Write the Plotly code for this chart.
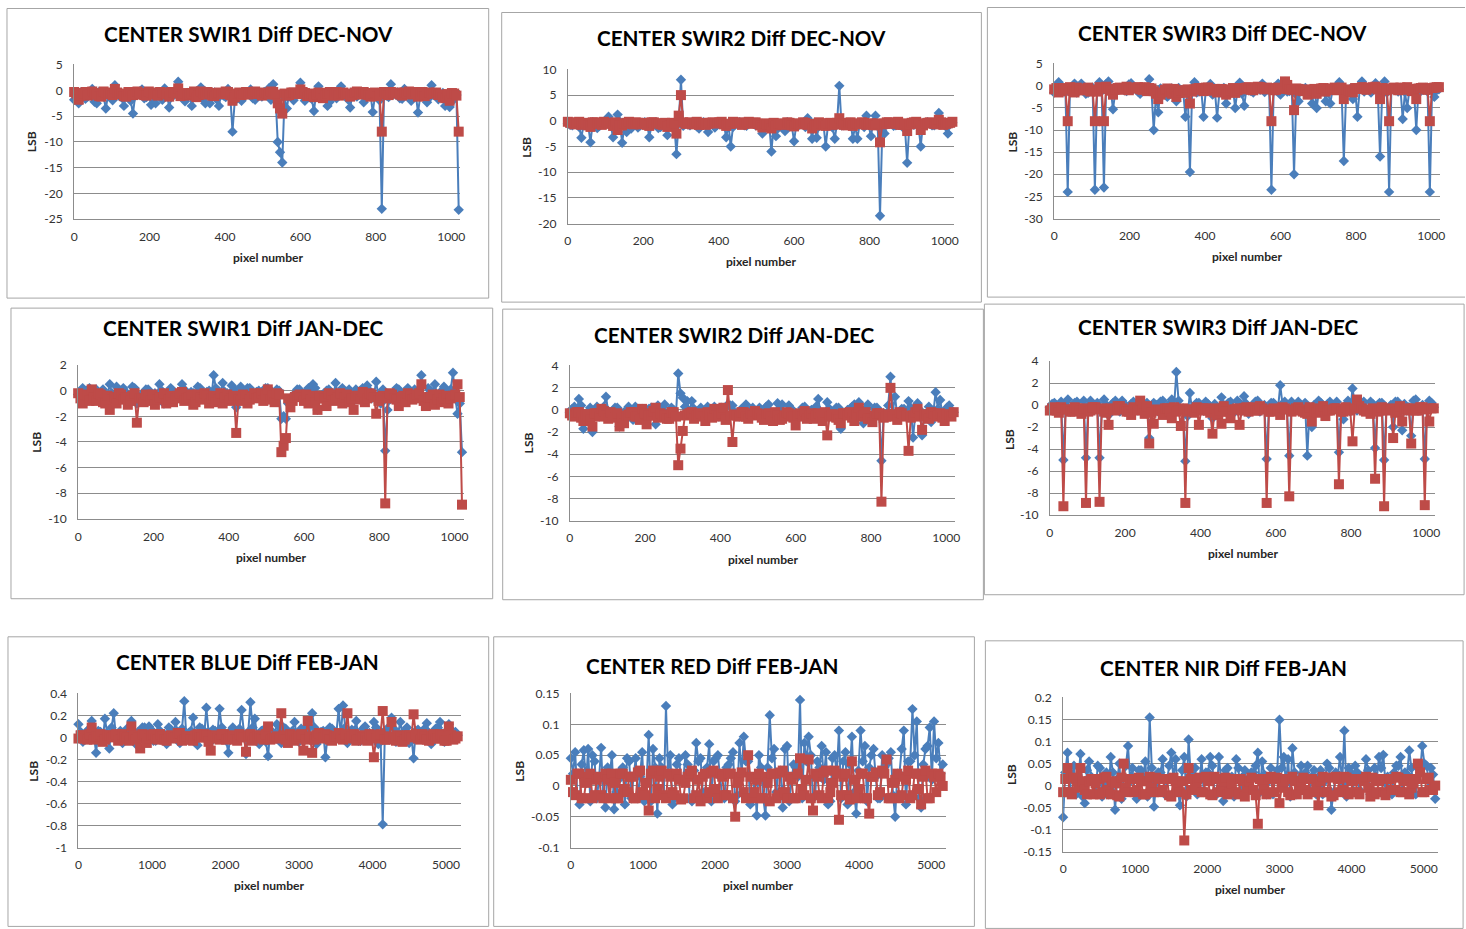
import plotly.graph_objects as go

# Figure size in CSS pixels, and the affine map from screen pixels (in which
# the layout anchors below are written) to figure pixels.
W, H = 1470, 936
SCREEN_SX, SCREEN_SY = 0.9945, 0.983
SCREEN_OX, SCREEN_OY = 2.5, 7.0

# Pixel positions sampled along each detector line (two interleaved grids)
SWIR_PIXELS_A = list(range(0, 1021, 12))   # 86 samples
SWIR_PIXELS_B = list(range(6, 1015, 12))   # 85 samples
VNIR_PIXELS_A = list(range(0, 5161, 60))   # 87 samples
VNIR_PIXELS_B = list(range(30, 5131, 60))  # 86 samples

SWIR_XTICKS = [0, 200, 400, 600, 800, 1000]
VNIR_XTICKS = [0, 1000, 2000, 3000, 4000, 5000]

# ---- CENTER SWIR1 Diff DEC-NOV ----
swir1_decnov_blue_a = [
    -1.8, -2.5, -0.6, -1.2, 0.3, -2.5, -0.9, -3.5, -0.5, 1.0,
    -1.1, -3.0, -0.4, -4.5, -0.8, 0.2, -1.3, -2.8, -2.5, -0.6,
    0.4, -3.3, -0.9, 1.7, -1.4, -0.5, -3.0, -0.7, 0.6, -2.5,
    -2.5, -0.4, -3.0, -1.0, 0.3, -8.0, -0.8, -2.0, -0.5, 0.2,
    -1.8, -0.9, -0.3, 0.4, 1.2, -10.0, -14.0, -3.5, -0.6, -0.6,
    1.5, -2.0, -0.7, -4.0, 0.8, -1.2, -3.0, -0.5, -1.5, 0.8,
    -0.6, -3.3, -1.0, -0.4, -2.3, -0.8, -4.2, -0.5, -23.0, -1.0,
    1.2, -0.7, -1.5, 0.3, -0.9, -1.4, -4.3, -0.6, -2.3, 1.0,
    -0.5, -1.2, -3.0, -3.2, -1.0, -23.2]
swir1_decnov_blue_b = [
    -1.0, -0.4, -1.6, -0.7, -2.2, -0.3, -1.2, -0.8, -1.9, -0.5,
    -1.4, -0.6, -2.0, -0.9, -0.2, -1.5, -0.7, -1.1, -0.4, -1.8,
    -0.6, -1.3, -0.3, -0.9, -2.1, -0.5, -1.2, -0.8, -1.6, -0.4,
    -1.0, -1.7, -0.6, -1.3, -0.9, -2.0, -0.5, -1.1, -0.3, -1.5,
    -0.7, -1.2, -0.4, -1.8, -0.8, -12.0, -1.4, -0.6, -1.9, -0.3,
    -1.1, -0.7, -1.6, -0.5, -1.3, -0.9, -2.2, -0.4, -1.0, -0.6,
    -1.7, -0.8, -1.2, -0.3, -1.5, -0.7, -1.0, -1.9, -0.5, -1.3,
    -0.8, -0.4, -1.6, -0.9, -2.0, -0.6, -1.1, -0.3, -1.4, -0.8,
    -1.7, -0.5, -1.2, -2.1, -0.9]
swir1_decnov_red_a = [
    -0.3, -1.8, -0.5, -1.0, -0.2, -0.8, -1.2, -0.4, -0.6, 0.3,
    -0.7, -1.1, -0.3, -0.9, -0.2, -0.6, -1.0, -0.4, -0.8, -0.3,
    -0.5, -1.2, -0.4, 0.4, -0.7, -1.0, -0.5, -1.3, -0.2, -0.8,
    -0.5, -1.1, -0.4, -0.7, -0.3, -2.0, -0.6, -0.9, -0.3, -0.5,
    -0.2, -0.6, -0.4, -0.8, -0.3, -2.5, -4.5, -1.0, -0.4, -0.7,
    0.2, -0.5, -0.9, -1.3, -0.4, -1.5, -0.6, -1.0, -0.3, -0.5,
    -0.8, -1.2, -0.4, -0.6, -0.3, -0.9, -0.5, -1.1, -8.0, -0.6,
    -0.3, -0.5, -0.8, -0.4, -0.2, -0.6, -1.2, -0.3, -0.7, -0.5,
    -0.4, -0.8, -1.5, -2.0, -0.6, -8.0]
swir1_decnov_red_b = [
    -0.6, -1.0, -0.3, -0.8, -0.5, -1.1, -0.2, -0.7, -0.9, -0.4,
    -0.6, -1.2, -0.3, -0.8, -0.5, -0.9, -0.2, -0.7, -1.0, -0.4,
    -0.8, -0.3, -0.6, -1.1, -0.5, -0.8, -0.2, -0.9, -0.6, -0.3,
    -1.0, -0.5, -0.7, -0.2, -0.9, -1.3, -0.4, -0.6, -0.8, -0.3,
    -0.7, -1.0, -0.5, -0.2, -0.8, -3.5, -0.6, -0.9, -0.4, -0.7,
    -0.3, -1.1, -0.6, -0.8, -0.5, -0.9, -0.3, -0.7, -1.0, -0.4,
    -0.6, -0.9, -0.2, -0.8, -0.5, -1.2, -0.4, -0.7, -0.3, -0.9,
    -0.6, -0.4, -1.0, -0.5, -0.8, -0.3, -0.7, -1.1, -0.4, -0.6,
    -0.9, -1.3, -0.7, -0.5, -1.0]

# ---- CENTER SWIR2 Diff DEC-NOV ----
swir2_decnov_blue_a = [
    -0.6, -0.9, -0.3, -3.3, -0.8, -4.2, -0.5, -1.0, -0.4, 0.8,
    -3.2, 1.2, -4.3, -2.2, -1.5, -0.6, -0.9, -0.3, -3.2, -0.8,
    -1.4, -0.5, -2.8, -0.7, -6.5, 8.0, -0.4, -0.9, -0.5, -1.5,
    -0.3, -2.2, -0.6, -0.8, -0.4, -3.2, -5.0, -0.7, -0.3, -0.9,
    -0.5, -0.6, -0.4, -2.5, -0.8, -6.0, -3.0, -0.7, -2.0, -0.5,
    -4.0, -0.9, -0.4, 0.5, -3.5, -3.3, -0.8, -5.0, -0.6, -3.5,
    6.8, -0.9, -0.5, -3.5, -3.5, -0.7, 1.0, -3.0, 1.0, -18.5,
    -2.5, -0.6, -1.0, -0.4, -1.2, -8.2, -0.6, -0.3, -5.0, -0.8,
    -0.5, -0.9, 1.5, -0.6, -2.5, -0.4]
swir2_decnov_blue_b = [
    -0.8, -0.4, -1.2, -0.6, -0.9, -0.3, -1.4, -0.7, -0.5, -1.0,
    -0.6, -0.2, -1.1, -0.8, -0.4, -1.3, -0.7, -0.5, -0.9, -0.3,
    -1.2, -0.6, -0.8, -0.4, -0.5, -1.0, -0.7, -0.3, -1.1, -0.6,
    -0.9, -0.4, -1.3, -0.5, -0.8, -0.7, -1.2, -0.3, -0.6, -1.0,
    -0.4, -0.9, -0.7, -1.1, -0.5, -0.8, -1.4, -0.6, -0.3, -1.0,
    -0.7, -0.5, -1.2, -0.9, -0.4, -1.1, -0.6, -0.8, -1.3, -0.5,
    -0.9, -0.7, -0.4, -1.0, -0.6, -1.2, -0.8, -0.3, -1.1, -2.0,
    -0.7, -0.5, -0.9, -0.4, -1.2, -0.6, -0.8, -1.0, -0.5, -0.3,
    -0.9, -0.6, -0.4, -1.1, -0.7]
swir2_decnov_red_a = [
    -0.2, -0.5, -0.3, -0.8, -0.4, -1.2, -0.3, -0.6, -0.2, -0.5,
    -1.0, -1.8, -0.9, -0.4, -0.6, -0.3, -0.7, -0.4, -1.0, -0.3,
    -0.5, -0.8, -1.2, -0.4, -2.5, 5.0, -0.6, -0.3, -0.5, -0.8,
    -0.4, -0.6, -0.3, -0.5, -0.2, -1.0, -0.6, -0.4, -0.3, -0.5,
    -0.2, -0.4, -0.6, -1.3, -0.8, -1.5, -0.9, -0.5, -0.7, -0.4,
    -1.1, -0.6, -0.3, -0.8, -1.5, -0.9, -0.5, -1.0, -0.4, -0.7,
    0.5, -0.8, -0.4, -1.0, -0.6, -0.3, -0.8, -0.5, -0.9, -4.2,
    -0.6, -0.3, -0.5, -0.2, -0.8, -2.0, -0.4, -0.2, -1.8, -0.5,
    -0.3, -0.6, 0.2, -0.8, -0.5, -0.2]
swir2_decnov_red_b = [
    -0.4, -0.7, -0.2, -0.6, -0.9, -0.3, -0.5, -0.8, -0.4, -0.6,
    -0.3, -0.9, -0.5, -0.2, -0.7, -0.4, -0.6, -0.8, -0.3, -0.5,
    -0.7, -0.4, -0.9, -0.6, 1.0, -0.3, -0.5, -0.7, -0.2, -0.6,
    -0.8, -0.4, -0.5, -0.3, -0.7, -0.6, -0.2, -0.5, -0.8, -0.4,
    -0.6, -0.3, -0.9, -0.5, -0.7, -0.4, -0.6, -0.8, -0.3, -0.9,
    -0.5, -0.7, -0.4, -0.6, -0.9, -0.3, -0.7, -0.5, -0.8, -0.4,
    -0.6, -0.9, -0.3, -0.5, -0.7, -0.4, -0.6, -0.8, -0.5, -0.7,
    -0.3, -0.6, -0.4, -0.8, -0.5, -0.7, -0.3, -0.6, -0.9, -0.4,
    -0.5, -0.7, -0.3, -0.6, -0.4]

# ---- CENTER SWIR3 Diff DEC-NOV ----
swir3_decnov_blue_a = [
    -1.5, 0.8, -0.6, -24.0, -1.0, -1.5, 0.5, -1.8, -0.8, -23.5,
    0.8, -23.0, 1.0, -5.3, -0.9, -0.5, -1.2, 0.6, -0.7, -1.8,
    -0.4, 1.5, -10.0, -6.0, -1.2, -2.5, -0.6, -3.5, -1.0, -7.0,
    -19.5, 0.8, -1.3, -7.0, -0.5, -2.0, -7.2, -1.5, -4.0, -0.8,
    -5.0, 0.7, -4.5, -1.0, -1.5, -0.6, 0.5, -0.9, -23.5, -0.7,
    -2.0, 0.9, -1.2, -20.0, -3.5, -0.8, -1.4, -4.0, -5.0, -0.6,
    -3.5, -4.0, -0.9, 0.8, -17.0, -1.2, -3.0, -7.0, 1.0, -0.8,
    -1.5, 0.6, -16.0, 1.0, -24.0, -0.7, -1.3, -7.5, -5.0, -0.9,
    -10.0, -1.2, -0.5, -24.0, -2.5, -0.8]
swir3_decnov_blue_b = [
    -0.9, -0.3, -1.4, -0.6, 0.5, -1.1, -0.7, -1.6, -0.4, -0.9,
    -1.2, 0.4, -0.8, -1.5, -0.5, -1.0, 0.3, -0.7, -1.3, -0.4,
    -0.8, -1.1, -2.0, -0.6, -1.4, -0.9, -1.7, -0.5, -1.2, -1.0,
    -0.6, -1.5, -0.8, -1.1, 0.4, -0.9, -1.6, -0.5, -1.3, -0.7,
    -1.0, -1.8, -0.6, -1.2, -0.4, -0.9, -1.4, -0.7, -1.1, 0.5,
    -0.8, -1.3, -0.6, -2.0, -1.0, -0.5, -1.5, -0.8, -1.2, -0.7,
    -1.4, -0.9, -0.5, -1.1, -1.6, -0.6, -1.0, -0.8, -1.3, -0.4,
    -0.9, -1.2, -0.6, -1.5, -0.8, -1.0, -0.5, -1.4, -0.7, -1.1,
    -0.6, -0.9, -1.3, -0.5, -1.0]
swir3_decnov_red_a = [
    -0.8, -1.5, -0.5, -8.0, -1.2, -0.4, -1.0, -0.6, -1.3, -8.0,
    -0.3, -8.0, -0.7, -2.0, -0.5, -0.9, -0.2, -0.6, -0.4, -0.8,
    -0.3, -0.5, -1.2, -3.0, -1.5, -0.6, -1.8, -2.5, -1.0, -1.6,
    -4.0, -0.8, -0.5, -1.2, -0.4, -0.9, -1.5, -0.7, -2.0, -1.0,
    -1.6, -0.5, -0.8, -0.3, -1.0, -0.2, -0.6, -0.4, -8.0, -0.9,
    -0.5, 1.0, -0.8, -5.5, -0.7, -1.2, -2.0, -1.0, -1.8, -0.6,
    -1.3, -0.9, -0.4, -0.8, -3.0, -1.0, -1.5, -0.6, -0.3, -0.9,
    -0.5, -0.2, -3.0, -0.7, -8.0, -0.4, -1.0, -0.6, -0.3, -1.2,
    -3.0, -0.5, -0.8, -8.0, -0.4, -0.3]
swir3_decnov_red_b = [
    -0.5, -1.2, -0.8, -0.3, -1.5, -0.7, -1.0, -0.4, -0.9, -1.3,
    -0.6, -0.2, -1.1, -0.8, -0.4, -0.7, -1.0, -0.5, -0.3, -0.9,
    -1.2, -0.6, -1.8, -2.0, -0.9, -1.4, -0.7, -1.6, -1.1, -0.8,
    -1.3, -0.6, -0.9, -0.4, -1.1, -0.7, -1.4, -0.8, -1.2, -0.5,
    -1.0, -0.7, -0.4, -0.9, -0.6, -0.3, -0.8, -0.5, -1.0, -0.4,
    -0.7, 0.2, -0.9, -0.6, -1.1, -0.8, -1.5, -0.7, -1.2, -0.5,
    -0.9, -0.6, -1.0, -0.4, -0.8, -1.3, -0.5, -0.7, -0.4, -0.6,
    -0.3, -0.8, -0.5, -1.0, -0.6, -0.8, -0.4, -0.9, -0.7, -1.1,
    -0.6, -0.4, -0.9, -0.5, -0.3]

# ---- CENTER SWIR1 Diff JAN-DEC ----
swir1_jandec_blue_a = [
    -0.3, 0.2, -0.6, -0.2, 0.1, -0.5, -0.8, 0.5, -0.4, -0.1,
    0.2, -0.6, 0.3, -1.0, -0.3, 0.1, -0.5, -0.2, 0.5, -1.0,
    -0.4, 0.0, -0.6, 0.5, -0.3, -0.1, -0.7, 0.2, -0.4, 0.0,
    1.2, -0.5, 0.6, -0.2, 0.4, -1.3, 0.3, -0.6, 0.2, -0.3,
    0.0, -0.5, 0.2, -0.1, 0.1, -2.2, -2.2, -0.8, -0.3, 0.1,
    -0.5, 0.2, 0.5, -1.5, -0.4, 0.0, -0.6, 0.6, -0.2, -0.5,
    0.1, -0.8, -0.3, 0.2, 0.4, -0.6, 0.7, -1.0, -4.7, -0.7,
    -0.2, 0.1, -0.4, 0.2, -0.6, -0.1, 1.2, -0.5, 0.0, 0.5,
    -0.3, 0.3, -0.6, 1.4, -1.8, -4.8]
swir1_jandec_blue_b = [
    -0.1, -0.5, 0.2, -0.3, -0.7, 0.1, -0.4, -0.2, 0.3, -0.6,
    -0.1, -0.4, 0.2, -0.5, -0.2, 0.1, -0.7, -0.3, 0.0, -0.5,
    0.2, -0.3, -0.6, 0.1, -0.4, -0.2, 0.3, -0.5, -0.1, -0.6,
    0.2, -0.3, -0.1, -0.5, 0.1, -0.4, -0.2, 0.2, -0.6, -0.1,
    -0.3, 0.2, -0.5, -0.2, 0.0, -2.0, -1.0, -0.4, 0.1, -0.3,
    -0.1, -0.6, 0.2, -0.4, -0.2, 0.1, -0.5, -0.3, 0.2, -0.1,
    -0.4, 0.1, -0.6, -0.2, 0.0, -0.3, -0.5, 0.1, -1.5, -0.4,
    0.2, -0.2, -0.5, -0.1, 0.1, -0.3, -0.6, 0.2, -0.2, -0.4,
    0.0, -0.3, 0.1, -0.5, -1.0]
swir1_jandec_red_a = [
    -0.2, -1.0, -0.4, 0.1, -0.8, -0.3, -1.0, -1.5, -0.5, -0.2,
    -0.7, -1.1, -0.4, -2.5, -0.6, -0.3, -0.8, -1.1, -0.5, -0.2,
    -0.7, -0.9, -0.4, -0.1, -0.6, -0.3, -0.9, -0.5, -0.2, -1.0,
    -0.4, -0.7, -1.0, -0.3, -0.6, -3.3, -0.8, -0.4, -0.7, -0.2,
    -0.5, -0.8, 0.1, -0.4, -0.2, -4.8, -3.7, -1.3, -0.5, -0.3,
    -0.8, -1.0, -0.4, -1.5, -0.6, -1.2, -0.3, -0.7, -0.2, -0.5,
    -0.9, -1.5, -0.4, -0.1, -0.6, -0.3, -1.8, -0.5, -8.8, -0.2,
    -0.6, -1.2, -0.4, -0.2, -0.7, -0.3, 0.5, -1.2, -0.5, -1.1,
    -0.3, -0.6, -1.0, -0.4, 0.5, -8.9]
swir1_jandec_red_b = [
    -0.6, -0.3, -0.8, -0.5, -0.2, -0.9, -0.4, -0.7, -1.0, -0.3,
    -0.5, -0.8, -0.2, -0.6, -0.9, -0.4, -0.3, -0.7, -0.5, -1.0,
    -0.4, -0.6, -0.2, -0.8, -0.5, -1.1, -0.3, -0.7, -0.4, -0.6,
    -0.9, -0.2, -0.5, -0.8, -0.4, -0.7, -0.3, -1.0, -0.5, -0.6,
    -0.2, -0.4, -0.7, -0.9, -0.3, -4.3, -0.6, -0.8, -0.4, -0.5,
    -0.3, -0.7, -0.9, -0.4, -0.6, -0.2, -0.8, -0.5, -1.0, -0.3,
    -0.6, -0.4, -0.7, -0.9, -0.2, -0.5, -0.8, -0.4, -0.6, -0.3,
    -0.7, -0.5, -0.9, -0.4, -0.6, -0.2, -0.8, -0.5, -0.3, -0.7,
    -0.9, -0.4, -0.6, -0.3, -0.5]

# ---- CENTER SWIR2 Diff JAN-DEC ----
swir2_jandec_blue_a = [
    -0.2, 0.3, 1.0, -1.7, -0.4, -2.0, 0.3, -0.5, 1.2, -0.3,
    0.2, -1.5, -0.6, 0.3, -0.9, -0.2, 0.1, -0.5, 0.2, -1.3,
    -0.3, 0.5, -0.6, 0.0, 3.3, 1.1, 0.8, 0.8, -0.4, 0.2,
    -0.5, -0.1, 0.3, -0.6, 0.0, 0.5, 0.4, -0.3, 0.1, 0.5,
    -0.7, -0.2, 0.2, -0.4, 0.5, -0.6, 0.6, 0.5, -0.3, 0.1,
    -0.8, -0.2, 0.3, -0.5, 0.0, 1.0, -0.4, 0.7, -0.6, 0.2,
    -1.7, -0.3, 0.1, 0.5, 0.7, -1.2, 0.5, -0.4, 0.2, -4.6,
    -0.5, 3.0, 1.2, -0.3, 0.1, 0.8, -2.5, 0.6, -2.3, -0.4,
    -1.1, 1.6, 0.9, -0.5, 0.4, -0.2]
swir2_jandec_blue_b = [
    0.1, -0.3, 0.4, -0.5, 0.2, -0.2, -0.6, 0.3, -0.1, -0.4,
    0.2, -0.3, 0.0, -0.6, 0.3, -0.2, -0.5, 0.1, -0.3, 0.4,
    -0.1, -0.5, 0.2, -0.4, 1.5, 0.3, -0.2, 0.1, -0.4, -0.1,
    0.3, -0.5, 0.0, 0.2, -0.3, 0.4, -0.2, -0.6, 0.1, -0.3,
    0.2, -0.4, 0.0, 0.3, -0.2, -0.5, 0.1, -0.3, 0.4, -0.1,
    -0.4, 0.2, -0.6, 0.0, 0.3, -0.2, -0.4, 0.1, -0.3, 0.2,
    -0.5, 0.0, 0.3, -0.2, -0.4, 0.1, -0.6, 0.2, -0.1, -0.3,
    0.4, -0.2, -0.5, 0.1, -0.3, 0.2, -0.4, 0.0, -0.6, 0.3,
    -0.2, 0.1, -0.4, 0.2, -0.1]
swir2_jandec_red_a = [
    -0.3, -0.6, -0.2, -1.0, -0.4, -1.5, -0.3, 0.1, -0.5, -0.2,
    -0.7, -1.5, -1.2, -0.4, -0.2, -0.6, 0.1, -1.3, -0.5, 0.2,
    -0.3, -0.5, -0.8, -0.2, -5.0, -1.9, -0.4, -0.2, -0.5, -0.3,
    -1.0, -0.4, 0.1, -0.6, 0.2, 1.8, -2.9, -0.5, -0.2, -0.6,
    -0.3, -0.1, -0.4, -0.9, -0.3, -1.0, -0.5, -0.8, -0.2, -0.6,
    -1.4, -0.3, -0.1, -0.5, -0.8, -0.3, -1.0, -2.3, -0.4, -0.7,
    -1.2, -0.3, -0.2, -1.0, 0.2, -0.5, -0.8, -1.1, -0.3, -8.3,
    -0.6, 2.0, -0.4, -0.2, -0.6, -3.7, -0.5, 0.1, -1.8, -0.4,
    -0.2, -0.6, -0.3, -1.0, -0.4, -0.2]
swir2_jandec_red_b = [
    -0.5, -0.2, -0.7, -0.4, -0.9, -0.3, -0.6, -0.1, -0.8, -0.4,
    -0.3, -0.7, -0.5, -0.2, -0.6, -0.9, -0.3, -0.5, -0.1, -0.7,
    -0.4, -0.8, -0.2, -0.6, -3.5, -0.5, -0.3, -0.8, -0.4, -0.6,
    -0.2, -0.7, -0.5, -0.3, -0.9, -0.5, -0.4, -0.6, -0.2, -0.8,
    -0.5, -0.3, -0.7, -0.4, -0.6, -0.2, -0.9, -0.5, -0.3, -0.7,
    -0.4, -0.6, -0.8, -0.3, -0.5, -0.7, -0.2, -0.6, -0.4, -0.9,
    -0.3, -0.5, -0.7, -0.4, -0.6, -0.2, -0.8, -0.5, -0.3, -0.7,
    -0.4, -0.6, -0.9, -0.3, -0.5, -0.7, -0.2, -0.6, -0.4, -0.8,
    -0.3, -0.5, -0.7, -0.4, -0.6]

# ---- CENTER SWIR3 Diff JAN-DEC ----
swir3_jandec_blue_a = [
    -0.2, 0.2, -0.4, -5.0, 0.5, -0.3, 0.3, -0.6, -4.8, 0.4,
    -0.2, -4.8, 0.5, -0.9, 0.2, -0.3, 0.4, -0.5, 0.1, -0.2,
    0.3, -0.4, -3.0, 0.2, -0.6, 0.4, -0.2, 0.5, 3.0, -0.4,
    -5.1, 1.1, -0.3, 0.2, -0.5, 0.1, -1.2, -0.4, 0.7, -0.2,
    0.3, -0.6, 0.2, 0.8, -0.8, -0.3, 0.4, -0.2, -4.9, 0.2,
    -0.4, 1.8, 0.3, -4.6, -0.2, 0.3, -0.5, -4.6, -2.0, -0.3,
    0.2, -0.6, 0.3, -0.2, -4.3, -1.3, 0.4, 1.5, -0.5, 0.2,
    -0.3, 0.3, -3.9, 0.2, -5.0, -0.4, -2.0, 0.3, -2.3, -0.5,
    -2.8, 0.5, -0.3, -4.9, 0.4, -0.2]
swir3_jandec_blue_b = [
    0.1, -0.5, 0.3, -0.2, -0.6, 0.2, -0.3, 0.4, -0.1, -0.5,
    0.2, -0.4, 0.0, -0.3, 0.4, -0.6, 0.1, -0.2, 0.3, -0.5,
    -0.1, 0.2, -0.4, 0.0, 0.3, -0.6, 0.1, -0.2, 0.4, -0.3,
    -1.0, -0.5, 0.2, -0.1, 0.3, -0.4, 0.1, -0.6, 0.0, 0.2,
    -0.3, 0.4, -0.5, 0.1, -0.2, 0.3, -0.6, 0.0, -0.3, 0.2,
    -0.4, 0.1, -0.5, 0.3, -0.1, -0.6, 0.2, -0.3, 0.0, 0.4,
    -0.5, 0.1, -0.2, 0.3, -0.4, 0.0, -0.6, 0.2, -0.1, 0.3,
    -0.5, 0.1, -0.3, 0.2, -0.4, 0.0, 0.3, -0.6, 0.1, -0.2,
    0.4, -0.5, 0.0, -0.3, 0.2]
swir3_jandec_red_a = [
    -0.5, -0.2, -0.7, -9.2, -0.4, -0.6, -0.3, -0.8, -8.9, -0.5,
    -0.2, -8.8, -0.6, -1.8, -0.4, -0.1, -0.3, -0.6, -0.9, -0.4,
    0.4, -0.8, -3.5, -1.7, -0.5, -0.9, -0.3, -1.2, -0.6, -1.9,
    -8.9, -0.4, -0.7, -1.8, -0.3, -0.5, -2.6, -0.9, -1.7, -0.6,
    -1.2, -0.4, -1.8, -0.3, -0.6, -0.2, -0.5, -0.3, -8.9, -0.6,
    -0.4, -0.9, -0.3, -8.3, -0.5, -0.2, -0.6, -0.8, -1.5, -0.7,
    -0.4, -1.0, -0.5, -0.3, -7.2, -0.6, -0.4, -3.3, 0.5, -0.3,
    -0.6, -0.8, -6.7, -0.5, -9.2, -0.4, -3.0, -0.6, -1.5, -0.3,
    -3.5, -0.5, -0.2, -9.1, -1.5, -0.3]
swir3_jandec_red_b = [
    -0.3, -0.5, -0.2, -0.4, -0.6, -0.2, -0.5, -0.3, -0.6, -0.2,
    -0.4, -0.3, -0.7, -0.3, -0.5, -0.1, -0.4, -0.6, -0.2, -0.5,
    -0.3, -0.1, -0.7, -0.4, -0.5, -0.3, -0.6, -0.2, -0.5, -0.3,
    -0.6, -0.4, -0.2, -0.5, -0.3, -0.7, -0.3, -0.5, -0.1, -0.6,
    -0.4, -0.3, -0.5, -0.2, -0.4, -0.5, -0.1, -0.4, -0.6, -0.3,
    -0.5, -0.2, -0.4, -0.6, -0.3, -0.4, -0.7, -0.2, -0.5, -0.3,
    -0.1, -0.5, -0.4, -0.3, -0.6, -0.2, -0.5, -0.3, -0.1, -0.5,
    -0.4, -0.3, -0.6, -0.2, -0.5, -0.3, -0.7, -0.1, -0.4, -0.5,
    -0.3, -0.5, -0.2, -0.4, -0.3]

# ---- CENTER BLUE Diff FEB-JAN ----
blue_febjan_blue_a = [
    0.12, -0.04, 0.06, 0.15, -0.14, 0.05, 0.17, -0.10, 0.22, 0.03,
    -0.05, 0.08, 0.15, -0.06, 0.04, 0.09, 0.10, -0.03, 0.12, 0.02,
    -0.06, 0.07, 0.14, -0.05, 0.33, 0.04, 0.18, -0.07, 0.08, 0.27,
    -0.04, 0.06, 0.26, 0.02, -0.14, 0.09, 0.05, 0.25, -0.15, 0.32,
    0.17, -0.06, 0.07, -0.17, 0.03, 0.12, -0.05, 0.08, 0.02, 0.14,
    -0.04, 0.06, 0.10, 0.22, -0.06, 0.05, -0.18, 0.09, 0.03, 0.26,
    0.29, -0.05, 0.07, 0.15, -0.03, 0.10, 0.04, 0.14, -0.06, -0.79,
    0.08, 0.18, -0.04, 0.14, 0.06, -0.05, -0.19, 0.07, 0.03, 0.13,
    -0.06, 0.08, 0.14, -0.04, 0.12, 0.05, 0.02]
blue_febjan_blue_b = [
    0.05, -0.02, 0.08, 0.02, 0.06, -0.03, 0.04, 0.09, 0.01, 0.06,
    0.03, 0.08, 0.00, 0.05, 0.09, 0.02, 0.07, -0.03, 0.06, 0.03,
    0.09, 0.01, 0.05, 0.08, -0.02, 0.06, 0.03, 0.09, 0.00, 0.05,
    0.07, 0.02, 0.09, -0.03, 0.06, 0.03, 0.08, 0.01, 0.05, 0.09,
    0.02, 0.06, -0.04, 0.07, 0.03, 0.05, 0.09, 0.00, 0.06, 0.02,
    0.08, 0.04, -0.02, 0.09, 0.03, 0.06, 0.01, 0.08, 0.04, 0.02,
    0.09, 0.03, 0.06, -0.03, 0.08, 0.04, 0.01, 0.09, 0.03, 0.06,
    -0.02, 0.08, 0.04, 0.02, 0.09, 0.01, 0.06, 0.03, 0.08, 0.04,
    -0.01, 0.09, 0.03, 0.06, 0.02, 0.05]
blue_febjan_red_a = [
    -0.01, 0.02, -0.02, 0.09, 0.01, 0.03, -0.02, 0.02, 0.01, -0.03,
    0.03, 0.00, 0.10, -0.02, -0.10, 0.02, -0.01, 0.03, -0.02, 0.01,
    -0.03, 0.02, 0.00, 0.04, -0.02, 0.01, -0.03, 0.03, 0.00, 0.02,
    -0.12, 0.01, -0.02, 0.03, -0.01, 0.02, -0.03, 0.01, -0.13, 0.03,
    0.00, 0.02, -0.02, 0.10, -0.01, 0.01, 0.22, -0.02, 0.03, -0.03,
    0.01, -0.12, 0.15, -0.14, 0.02, -0.01, 0.03, -0.02, 0.01, 0.04,
    -0.02, 0.22, 0.01, -0.03, 0.02, -0.01, 0.03, -0.18, 0.02, 0.24,
    -0.02, 0.14, -0.03, 0.01, -0.02, 0.02, 0.21, -0.01, 0.03, -0.02,
    0.02, -0.01, 0.03, -0.03, 0.10, -0.02, 0.01]
blue_febjan_red_b = [
    0.02, -0.01, 0.03, -0.02, 0.01, -0.04, 0.02, 0.00, 0.03, -0.02,
    0.01, -0.03, 0.02, 0.00, 0.03, -0.05, 0.02, -0.01, 0.03, -0.02,
    0.01, -0.01, 0.04, -0.03, 0.01, -0.02, 0.02, 0.00, 0.03, -0.04,
    0.02, -0.01, 0.03, -0.02, 0.01, -0.02, 0.03, 0.00, 0.02, -0.03,
    0.01, -0.01, 0.03, -0.02, 0.00, -0.01, 0.02, -0.05, 0.02, -0.01,
    0.03, -0.02, 0.01, -0.02, 0.04, 0.00, 0.02, -0.03, 0.01, -0.01,
    0.03, -0.01, 0.03, -0.02, 0.00, -0.03, 0.02, -0.01, 0.03, -0.02,
    0.01, -0.01, 0.02, -0.04, 0.02, 0.00, 0.03, -0.02, 0.01, -0.03,
    0.03, -0.01, 0.02, -0.03, 0.02, -0.01]

# ---- CENTER RED Diff FEB-JAN ----
red_febjan_blue_a = [
    0.045, 0.055, -0.03, 0.058, 0.06, 0.05, -0.02, 0.062, -0.035, 0.02,
    -0.038, 0.01, 0.03, 0.045, -0.02, 0.045, 0.015, -0.025, 0.083, 0.06,
    -0.045, 0.03, 0.13, 0.05, -0.02, 0.045, 0.01, 0.035, -0.025, 0.07,
    0.045, -0.02, 0.068, 0.04, 0.05, -0.015, 0.03, 0.045, -0.025, 0.07,
    0.08, 0.04, -0.02, -0.048, 0.03, -0.048, 0.115, 0.06, 0.02, -0.035,
    0.065, 0.01, 0.03, 0.14, 0.07, 0.08, -0.02, 0.04, 0.065, 0.055,
    -0.025, 0.05, 0.09, 0.04, -0.03, 0.08, -0.045, 0.09, 0.065, 0.03,
    0.06, -0.02, 0.05, 0.035, 0.055, -0.05, 0.02, 0.09, 0.04, 0.125,
    0.105, -0.035, 0.06, 0.095, 0.105, 0.07, 0.035]
red_febjan_blue_b = [
    0.02, -0.015, 0.035, 0.005, -0.025, 0.04, 0.01, -0.02, 0.03, 0.05,
    -0.01, 0.025, -0.03, 0.04, 0.015, -0.02, 0.055, 0.005, -0.025, 0.03,
    0.045, -0.015, 0.02, -0.03, 0.035, 0.01, 0.05, -0.02, 0.025, 0.04,
    -0.01, 0.03, -0.025, 0.045, 0.015, -0.02, 0.035, 0.055, -0.015, 0.02,
    0.04, -0.03, 0.01, 0.05, -0.02, 0.03, 0.045, -0.01, 0.025, 0.06,
    -0.025, 0.035, 0.015, -0.02, 0.04, 0.05, -0.015, 0.03, 0.01, -0.03,
    0.045, 0.02, -0.02, 0.055, 0.035, -0.01, 0.025, 0.04, -0.025, 0.05,
    0.015, -0.02, 0.03, 0.045, -0.015, 0.02, 0.06, -0.03, 0.04, 0.05,
    -0.02, 0.035, 0.065, 0.01, 0.045, 0.02]
red_febjan_red_a = [
    0.01, -0.015, 0.02, -0.02, 0.015, -0.02, 0.01, -0.015, 0.02, -0.02,
    0.005, -0.02, 0.02, -0.01, 0.015, -0.02, 0.025, -0.015, -0.04, 0.025,
    -0.005, 0.025, -0.02, 0.015, -0.015, 0.01, -0.02, 0.015, 0.025, -0.015,
    -0.025, 0.02, -0.01, 0.025, -0.02, 0.015, -0.015, 0.02, -0.05, 0.015,
    -0.01, 0.05, -0.02, 0.01, -0.02, 0.015, -0.025, 0.02, -0.015, 0.025,
    -0.02, 0.01, -0.02, 0.045, -0.015, 0.043, -0.04, 0.015, -0.02, 0.025,
    -0.01, 0.025, -0.055, 0.015, -0.015, 0.04, -0.02, 0.02, -0.02, -0.045,
    0.015, -0.015, 0.025, 0.043, -0.02, 0.01, -0.02, 0.015, 0.025, -0.015,
    0.02, -0.03, 0.025, -0.02, 0.015, 0.02, 0.0]
red_febjan_red_b = [
    -0.01, 0.02, -0.02, 0.005, 0.02, -0.015, 0.015, -0.02, 0.01, 0.02,
    -0.02, 0.02, -0.005, 0.015, -0.02, 0.022, -0.01, 0.005, 0.02, -0.02,
    0.015, -0.015, 0.02, -0.01, 0.02, -0.022, 0.005, 0.02, -0.02, 0.01,
    0.015, -0.02, 0.022, -0.005, 0.02, -0.015, 0.02, -0.02, 0.005, 0.022,
    -0.02, 0.015, -0.01, 0.02, -0.02, 0.005, 0.02, -0.02, 0.022, -0.01,
    0.015, -0.02, 0.02, -0.005, 0.01, -0.02, 0.02, -0.015, 0.022, -0.02,
    0.005, 0.02, -0.015, 0.02, -0.022, 0.01, -0.005, 0.02, -0.02, 0.015,
    0.022, -0.01, 0.02, -0.02, 0.005, 0.02, -0.015, 0.01, -0.02, 0.02,
    -0.005, 0.015, -0.02, 0.02, -0.01, 0.015]

# ---- CENTER NIR Diff FEB-JAN ----
nir_febjan_blue_a = [
    -0.072, 0.075, 0.02, -0.02, 0.072, -0.04, 0.055, 0.01, 0.045, -0.025,
    0.03, 0.065, -0.055, 0.05, 0.02, 0.09, 0.04, -0.03, 0.035, 0.055,
    0.155, -0.048, 0.03, 0.06, 0.015, 0.075, 0.06, -0.045, 0.065, 0.105,
    0.02, -0.02, 0.06, 0.03, 0.065, -0.015, 0.065, -0.035, 0.04, 0.02,
    0.06, -0.02, 0.035, 0.01, 0.03, 0.075, 0.055, -0.02, 0.04, 0.02,
    0.15, 0.065, 0.06, 0.085, -0.02, 0.045, 0.03, -0.015, 0.035, 0.02,
    -0.02, 0.05, -0.055, 0.03, 0.065, 0.125, 0.04, -0.015, 0.03, 0.02,
    0.06, -0.02, 0.04, 0.065, 0.07, 0.02, -0.02, 0.045, 0.065, 0.03,
    0.08, -0.015, 0.04, 0.09, 0.045, 0.04, -0.03]
nir_febjan_blue_b = [
    0.03, -0.01, 0.045, 0.01, -0.025, 0.035, 0.02, -0.015, 0.04, 0.005,
    -0.02, 0.03, 0.015, -0.03, 0.045, 0.01, -0.01, 0.035, 0.02, -0.025,
    0.04, 0.005, 0.03, -0.02, 0.045, 0.015, -0.01, 0.035, -0.025, 0.02,
    0.04, 0.01, -0.015, 0.03, 0.045, -0.02, 0.015, 0.035, 0.005, -0.025,
    0.04, 0.02, -0.01, 0.03, 0.045, -0.015, 0.025, 0.01, -0.02, 0.035,
    0.04, 0.005, -0.025, 0.03, 0.015, -0.01, 0.045, 0.02, -0.02, 0.035,
    0.01, 0.04, -0.015, 0.025, 0.005, -0.025, 0.03, 0.045, -0.01, 0.02,
    0.035, -0.02, 0.015, 0.04, 0.005, -0.015, 0.03, 0.045, -0.01, 0.025,
    0.04, -0.02, 0.03, 0.05, 0.01, 0.025]
nir_febjan_red_a = [
    -0.015, 0.04, -0.02, 0.015, 0.04, -0.01, 0.01, -0.02, 0.015, -0.015,
    0.02, -0.02, 0.005, -0.025, 0.05, -0.015, 0.015, -0.01, 0.01, -0.02,
    0.02, -0.015, 0.015, -0.01, 0.015, -0.025, 0.01, -0.015, -0.125, 0.04,
    -0.01, 0.015, -0.015, 0.02, -0.02, 0.02, -0.015, 0.01, -0.02, 0.005,
    -0.015, 0.015, -0.025, 0.01, -0.01, -0.087, 0.01, -0.02, 0.02, 0.015,
    -0.04, 0.01, -0.015, 0.02, -0.02, 0.01, -0.01, 0.015, -0.015, -0.045,
    0.02, -0.015, -0.025, 0.02, -0.015, 0.02, -0.02, 0.01, -0.015, 0.015,
    0.02, -0.025, -0.02, 0.01, -0.015, 0.015, -0.01, 0.02, -0.015, 0.01,
    -0.02, 0.005, 0.05, -0.015, 0.015, -0.01, 0.0]
nir_febjan_red_b = [
    0.015, -0.015, 0.018, -0.005, 0.01, -0.02, 0.015, 0.005, -0.02, 0.018,
    -0.01, 0.01, -0.022, 0.018, -0.005, 0.015, -0.015, 0.018, -0.02, 0.01,
    -0.005, 0.018, -0.015, 0.015, -0.022, 0.018, -0.01, 0.01, -0.02, 0.015,
    -0.005, 0.018, -0.015, 0.01, -0.022, 0.015, -0.01, 0.018, -0.015, 0.015,
    -0.02, 0.01, -0.005, 0.018, -0.022, 0.015, -0.01, 0.015, -0.015, 0.018,
    -0.005, 0.015, -0.022, 0.01, -0.01, 0.018, -0.02, 0.015, -0.005, 0.01,
    -0.015, 0.018, -0.022, 0.015, -0.01, 0.018, -0.015, 0.015, -0.02, 0.01,
    -0.005, 0.018, -0.015, 0.015, -0.022, 0.015, -0.01, 0.018, -0.015, 0.015,
    -0.005, 0.015, 0.03, -0.015, 0.018, -0.01]

# y tick values per chart
yt_swir1_decnov = [-25, -20, -15, -10, -5, 0, 5]
yt_swir2_decnov = [-20, -15, -10, -5, 0, 5, 10]
yt_swir3_decnov = [-30, -25, -20, -15, -10, -5, 0, 5]
yt_swir1_jandec = [-10, -8, -6, -4, -2, 0, 2]
yt_swir2_jandec = [-10, -8, -6, -4, -2, 0, 2, 4]
yt_swir3_jandec = [-10, -8, -6, -4, -2, 0, 2, 4]
yt_blue_febjan = [-1, -0.8, -0.6, -0.4, -0.2, 0, 0.2, 0.4]
yt_red_febjan = [-0.1, -0.05, 0, 0.05, 0.1, 0.15]
yt_nir_febjan = [-0.15, -0.1, -0.05, 0, 0.05, 0.1, 0.15, 0.2]


def interleave(a, b):
    """Merge two sample grids that alternate along the pixel axis."""
    out = []
    for i, v in enumerate(a):
        out.append(v)
        if i < len(b):
            out.append(b[i])
    return out


SWIR_PIXELS = interleave(SWIR_PIXELS_A, SWIR_PIXELS_B)
VNIR_PIXELS = interleave(VNIR_PIXELS_A, VNIR_PIXELS_B)

# Each chart box, in screen pixels: frame box, plot box, label anchors.
# open_right marks a frame whose right edge runs off the page.
panels = [
    dict(title="CENTER SWIR1 Diff DEC-NOV", px=SWIR_PIXELS,
         blue=interleave(swir1_decnov_blue_a, swir1_decnov_blue_b),
         red=interleave(swir1_decnov_red_a, swir1_decnov_red_b),
         xmax=1024, xt=SWIR_XTICKS, yt=yt_swir1_decnov,
         frame=(5.5, 8.5, 487.5, 297.5), plot=(72.7, 64.3, 459.0, 219.0),
         tpos=(246.7, 34.3), lpos=(30.7, 141.7), xpos=(266.7, 256.7)),
    dict(title="CENTER SWIR2 Diff DEC-NOV", px=SWIR_PIXELS,
         blue=interleave(swir2_decnov_blue_a, swir2_decnov_blue_b),
         red=interleave(swir2_decnov_red_a, swir2_decnov_red_b),
         xmax=1024, xt=SWIR_XTICKS, yt=yt_swir2_decnov,
         frame=(500.5, 12.5, 980.5, 301.5), plot=(566.7, 69.0, 953.0, 223.3),
         tpos=(740.7, 38.3), lpos=(525.7, 146.7), xpos=(760.0, 260.7)),
    dict(title="CENTER SWIR3 Diff DEC-NOV", px=SWIR_PIXELS,
         blue=interleave(swir3_decnov_blue_a, swir3_decnov_blue_b),
         red=interleave(swir3_decnov_red_a, swir3_decnov_red_b),
         xmax=1024, xt=SWIR_XTICKS, yt=yt_swir3_decnov,
         frame=(986.5, 7.5, 1470.0, 296.5), plot=(1053.3, 63.3, 1439.8, 218.3),
         tpos=(1221.7, 33.3), lpos=(1011.7, 141.7), xpos=(1246.7, 255.7),
         open_right=True),
    dict(title="CENTER SWIR1 Diff JAN-DEC", px=SWIR_PIXELS,
         blue=interleave(swir1_jandec_blue_a, swir1_jandec_blue_b),
         red=interleave(swir1_jandec_red_a, swir1_jandec_red_b),
         xmax=1024, xt=SWIR_XTICKS, yt=yt_swir1_jandec,
         frame=(9.5, 307.5, 491.5, 597.5), plot=(76.7, 364.0, 462.3, 518.0),
         tpos=(242.3, 327.0), lpos=(35.0, 441.3), xpos=(270.0, 556.3)),
    dict(title="CENTER SWIR2 Diff JAN-DEC", px=SWIR_PIXELS,
         blue=interleave(swir2_jandec_blue_a, swir2_jandec_blue_b),
         red=interleave(swir2_jandec_red_a, swir2_jandec_red_b),
         xmax=1024, xt=SWIR_XTICKS, yt=yt_swir2_jandec,
         frame=(501.5, 308.5, 982.5, 598.5), plot=(568.7, 364.7, 954.3, 519.7),
         tpos=(733.0, 334.7), lpos=(527.0, 442.3), xpos=(762.0, 558.0)),
    dict(title="CENTER SWIR3 Diff JAN-DEC", px=SWIR_PIXELS,
         blue=interleave(swir3_jandec_blue_a, swir3_jandec_blue_b),
         red=interleave(swir3_jandec_red_a, swir3_jandec_red_b),
         xmax=1024, xt=SWIR_XTICKS, yt=yt_swir3_jandec,
         frame=(983.5, 303.5, 1463.5, 593.5), plot=(1049.0, 360.0, 1434.7, 514.3),
         tpos=(1217.3, 326.7), lpos=(1008.0, 438.3), xpos=(1242.0, 552.3)),
    dict(title="CENTER BLUE Diff FEB-JAN", px=VNIR_PIXELS,
         blue=interleave(blue_febjan_blue_a, blue_febjan_blue_b),
         red=interleave(blue_febjan_red_a, blue_febjan_red_b),
         xmax=5200, xt=VNIR_XTICKS, yt=yt_blue_febjan,
         frame=(6.5, 635.5, 487.5, 924.5), plot=(77.0, 691.7, 459.4, 846.0),
         tpos=(246.3, 661.0), lpos=(32.3, 769.3), xpos=(268.0, 884.0)),
    dict(title="CENTER RED Diff FEB-JAN", px=VNIR_PIXELS,
         blue=interleave(red_febjan_blue_a, red_febjan_blue_b),
         red=interleave(red_febjan_red_a, red_febjan_red_b),
         xmax=5200, xt=VNIR_XTICKS, yt=yt_red_febjan,
         frame=(492.5, 635.5, 973.5, 924.5), plot=(569.7, 692.0, 944.7, 846.0),
         tpos=(711.3, 665.0), lpos=(518.0, 770.0), xpos=(757.0, 884.0)),
    dict(title="CENTER NIR Diff FEB-JAN", px=VNIR_PIXELS,
         blue=interleave(nir_febjan_blue_a, nir_febjan_blue_b),
         red=interleave(nir_febjan_red_a, nir_febjan_red_b),
         xmax=5200, xt=VNIR_XTICKS, yt=yt_nir_febjan,
         frame=(984.5, 639.5, 1462.5, 926.5), plot=(1062.3, 696.0, 1437.5, 850.0),
         tpos=(1222.3, 666.7), lpos=(1011.3, 773.3), xpos=(1249.7, 887.3)),
]

BLUE = "#4A7EBB"
RED = "#BE4B48"
GRID = "#8C8C8C"
FRAME = "#A6A6A6"
FONT = "Lato"
TICK_FONT = dict(family=FONT, size=12.1, color="#333333")


def px_x(v):
    """Screen x pixel -> paper fraction (clamped to the figure)."""
    f = (v - SCREEN_OX) / SCREEN_SX
    return min(max(f / W, 0.0), 1.0)


def px_y(v):
    """Screen y pixel -> paper fraction (clamped to the figure)."""
    f = (v - SCREEN_OY) / SCREEN_SY
    return min(max(1 - f / H, 0.0), 1.0)


fig = go.Figure()
layout = dict(
    width=W, height=H,
    margin=dict(l=0, r=0, t=0, b=0),
    paper_bgcolor="white", plot_bgcolor="white",
    showlegend=False,
)
shapes = []
annotations = []

for k, p in enumerate(panels, start=1):
    assert len(p["blue"]) == len(p["px"]) and len(p["red"]) == len(p["px"]), p["title"]
    xa, ya = f"x{k}", f"y{k}"
    fig.add_trace(go.Scatter(
        x=p["px"], y=p["blue"], xaxis=xa, yaxis=ya, mode="lines+markers",
        line=dict(color=BLUE, width=2),
        marker=dict(symbol="diamond", size=8, color=BLUE),
        cliponaxis=False, hoverinfo="x+y"))
    fig.add_trace(go.Scatter(
        x=p["px"], y=p["red"], xaxis=xa, yaxis=ya, mode="lines+markers",
        line=dict(color=RED, width=2),
        marker=dict(symbol="square", size=10, color=RED),
        cliponaxis=False, hoverinfo="x+y"))

    l, t, r, b = p["plot"]
    ymin, ymax = min(p["yt"]), max(p["yt"])
    pad = (ymax - ymin) * 0.002
    layout[f"xaxis{k}"] = dict(
        domain=[px_x(l), px_x(r)], range=[0, p["xmax"]], anchor=ya,
        tickvals=p["xt"], ticktext=[f"{v:g}" for v in p["xt"]],
        showgrid=False, zeroline=False, showline=True, linecolor=GRID,
        linewidth=1, ticks="", ticklabelstandoff=6, tickfont=TICK_FONT,
        fixedrange=True)
    layout[f"yaxis{k}"] = dict(
        domain=[px_y(b), px_y(t)], range=[ymin - pad, ymax + pad], anchor=xa,
        tickvals=p["yt"], ticktext=[f"{v:g}" for v in p["yt"]],
        showgrid=True, gridcolor=GRID, gridwidth=1, zeroline=False,
        showline=True, linecolor=GRID, linewidth=1, ticks="",
        ticklabelstandoff=8, tickfont=TICK_FONT, fixedrange=True)

    fx0, fy0, fx1, fy1 = p["frame"]
    if p.get("open_right"):
        path = (f"M {px_x(fx1)} {px_y(fy0)} L {px_x(fx0)} {px_y(fy0)} "
                f"L {px_x(fx0)} {px_y(fy1)} L {px_x(fx1)} {px_y(fy1)}")
        shapes.append(dict(type="path", xref="paper", yref="paper", path=path,
                           line=dict(color=FRAME, width=1), layer="below"))
    else:
        shapes.append(dict(type="rect", xref="paper", yref="paper",
                           x0=px_x(fx0), x1=px_x(fx1), y0=px_y(fy1), y1=px_y(fy0),
                           line=dict(color=FRAME, width=1),
                           fillcolor="rgba(0,0,0,0)", layer="below"))
    annotations.append(dict(
        text=p["title"], xref="paper", yref="paper",
        x=px_x(p["tpos"][0]), y=px_y(p["tpos"][1]),
        xanchor="center", yanchor="middle", showarrow=False,
        font=dict(family=FONT, size=20.7, color="#000000", weight="bold")))
    annotations.append(dict(
        text="LSB", xref="paper", yref="paper",
        x=px_x(p["lpos"][0]), y=px_y(p["lpos"][1]),
        xanchor="center", yanchor="middle", showarrow=False, textangle=-90,
        font=dict(family=FONT, size=12.1, color="#262626", weight="bold")))
    annotations.append(dict(
        text="pixel number", xref="paper", yref="paper",
        x=px_x(p["xpos"][0]), y=px_y(p["xpos"][1]),
        xanchor="center", yanchor="middle", showarrow=False,
        font=dict(family=FONT, size=12.1, color="#262626", weight="bold")))

layout["shapes"] = shapes
layout["annotations"] = annotations
fig.update_layout(**layout)

fig.write_html("out.html", config=dict(displayModeBar=False))
